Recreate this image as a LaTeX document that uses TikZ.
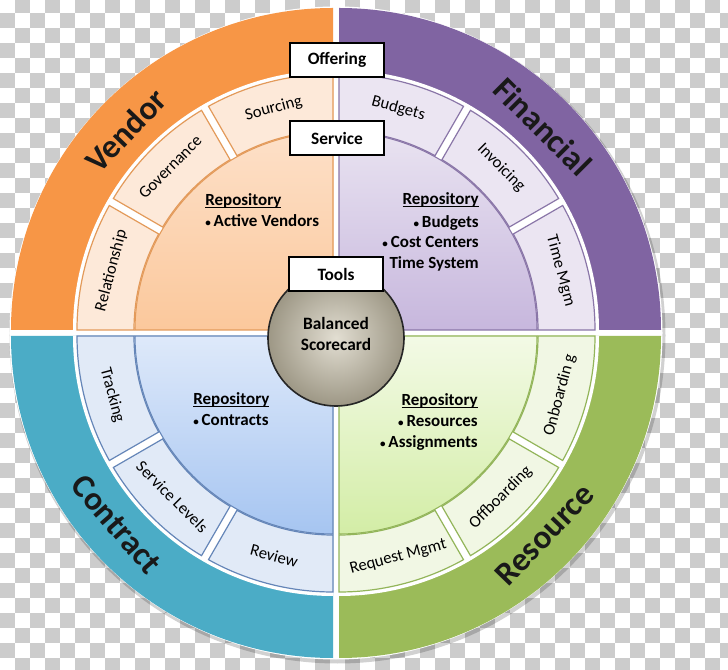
\documentclass[tikz,border=0pt]{standalone}
\usepackage{fontspec}
\setmainfont{Carlito}
\usetikzlibrary{calc}

\definecolor{checker}{RGB}{204,204,204}
\definecolor{vband}{HTML}{F79646}
\definecolor{vseg}{HTML}{FDE9D9}
\definecolor{vsegline}{HTML}{E39A5A}
\definecolor{vtop}{HTML}{FDE0C8}
\definecolor{vbot}{HTML}{FBC89C}
\definecolor{fband}{HTML}{8064A2}
\definecolor{fseg}{HTML}{EBE5F2}
\definecolor{fsegline}{HTML}{8A76A8}
\definecolor{ftop}{HTML}{E9E3F1}
\definecolor{fbot}{HTML}{C7B7DD}
\definecolor{cband}{HTML}{4BACC6}
\definecolor{cseg}{HTML}{E1EAF7}
\definecolor{csegline}{HTML}{6586B8}
\definecolor{ctop}{HTML}{DEE9FA}
\definecolor{cbot}{HTML}{A6C5F1}
\definecolor{rband}{HTML}{9BBB59}
\definecolor{rseg}{HTML}{F1F7E4}
\definecolor{rsegline}{HTML}{93B55A}
\definecolor{rtop}{HTML}{F3FAE6}
\definecolor{rbot}{HTML}{D3EDA6}
\definecolor{balltop}{HTML}{E2DED2}
\definecolor{ballbot}{HTML}{9D9785}

\newlength\ulwd
\newcommand\repul[1]{\settowidth\ulwd{#1}\rlap{\rule[-1.7pt]{\ulwd}{0.9pt}}#1}
\newcommand\smbul{\raisebox{0.4pt}{\scalebox{0.65}{•}}\hspace{2.2pt}}

% #1 style, #2 outer start, #3 outer end, #4 inner start, #5 inner end
\newcommand\segfill[5]{\filldraw[#1] (#2:256) arc[start angle=#2,end angle=#3,radius=256] -- (#5:199) arc[start angle=#5,end angle=#4,radius=199] -- cycle;}

% #1 #2 shift, #3 start angle, #4 band, #5 seg fill, #6 seg line, #7 top, #8 bottom
\newcommand\drawquad[8]{%
 \begin{scope}[shift={(#1,#2)}]
  \pgfmathsetmacro\qa{#3}
  \pgfmathsetmacro\qb{#3+90}
  \pgfmathsetmacro\oA{#3+29.1}\pgfmathsetmacro\oB{#3+30.9}
  \pgfmathsetmacro\oC{#3+59.1}\pgfmathsetmacro\oD{#3+60.9}
  \pgfmathsetmacro\iA{#3+28.85}\pgfmathsetmacro\iB{#3+31.15}
  \pgfmathsetmacro\iC{#3+58.85}\pgfmathsetmacro\iD{#3+61.15}
  \fill[#4] (0,0) -- (\qa:322) arc[start angle=\qa,end angle=\qb,radius=322] -- cycle;
  \fill[white] (\qa:260) arc[start angle=\qa,end angle=\qb,radius=260] -- (\qb:196) arc[start angle=\qb,end angle=\qa,radius=196] -- cycle;
  \segfill{fill=#5,draw=#6,line width=0.9pt}{\qa}{\oA}{\qa}{\iA}
  \segfill{fill=#5,draw=#6,line width=0.9pt}{\oB}{\oC}{\iB}{\iC}
  \segfill{fill=#5,draw=#6,line width=0.9pt}{\oD}{\qb}{\iD}{\qb}
  \path[draw=#6,line width=0.8pt,top color=#7,bottom color=#8] (0,0) -- (\qa:198) arc[start angle=\qa,end angle=\qb,radius=198] -- cycle;
 \end{scope}}

\tikzset{
 seglabel/.style={font=\fontsize{12.5}{14}\selectfont, text=black, inner sep=0pt, text height=8.5pt, text depth=2.5pt},
 quadlabel/.style={font=\bfseries\fontsize{25}{30}\selectfont, text=black!90, inner sep=0pt},
 reptext/.style={font=\bfseries\fontsize{12.75}{15}\selectfont, text=black, inner sep=0pt},
 tagbox/.style={draw=black, line width=1.5pt, fill=white, minimum width=70.5pt, minimum height=25.5pt, inner sep=0pt, font=\bfseries\fontsize{13}{15}\selectfont},
 ballstyle/.style={circle, draw=black!85, line width=1.2pt, minimum size=102pt, inner sep=0pt, inner color=balltop, outer color=ballbot},
 balltext/.style={font=\bfseries\fontsize{13}{15.75}\selectfont, align=center, inner sep=0pt},
}

\begin{document}
\begin{tikzpicture}[x=0.75pt,y=0.75pt]
\useasboundingbox (-336,-337) rectangle (392,333);
% transparency checkerboard
\begin{scope}
 \clip (-336,-337) rectangle (392,333);
 \fill[white] (-336,-337) rectangle (392,333);
 \foreach \r in {0,...,44}{
  \foreach \c in {0,...,48}{
   \ifodd\numexpr\c+\r\relax
    \fill[checker] ({15*\c-336},{334.7-15*\r}) rectangle ++(15,-15);
   \fi
  }
 }
\end{scope}
% shadow and white base
\fill[black,opacity=0.18] (1.5,-2.5) circle[radius=328];
\fill[white] (0,0) circle[radius=326.5];

\drawquad{-3}{3}{90}{vband}{vseg}{vsegline}{vtop}{vbot}
\drawquad{3}{3}{0}{fband}{fseg}{fsegline}{ftop}{fbot}
\drawquad{-3}{-3}{180}{cband}{cseg}{csegline}{ctop}{cbot}
\drawquad{3}{-3}{270}{rband}{rseg}{rsegline}{rtop}{rbot}

% Vendor
\begin{scope}[shift={(-3,3)}]
 \node[seglabel, rotate=15] (sourcing) at (105:229) {Sourcing};
 \node[seglabel, rotate=45] (governance) at (135:229) {Governance};
 \node[seglabel, rotate=75] (relationship) at (165:229) {Relationship};
 \node[quadlabel, rotate=46] (vendor) at (136:288) {Vendor};
\end{scope}
% Financial
\begin{scope}[shift={(3,3)}]
 \node[seglabel, rotate=-15] (budgets) at (75:229) {Budgets};
 \node[seglabel, rotate=-45] (invoicing) at (45:229) {Invoicing};
 \node[seglabel, rotate=-75] (timemgm) at (15:229) {Time Mgm};
 \node[quadlabel, rotate=-45] (financial) at (45:288) {Financial};
\end{scope}
% Contract
\begin{scope}[shift={(-3,-3)}]
 \node[seglabel, rotate=-75] (tracking) at (195:229) {Tracking};
 \node[seglabel, rotate=-45] (servicelevels) at (225:229) {Service Levels};
 \node[seglabel, rotate=-15] (review) at (255:229) {Review};
 \node[quadlabel, rotate=-49] (contract) at (221:287) {Contract};
\end{scope}
% Resource
\begin{scope}[shift={(3,-3)}]
 \node[seglabel, rotate=15] (requestmgmt) at (285:229) {Request Mgmt};
 \node[seglabel, rotate=45] (offboarding) at (315:229) {Offboarding};
 \node[seglabel, rotate=75] (onboarding) at (345:229) {Onboardin g};
 \node[quadlabel, rotate=46] (resource) at (316:286) {Resource};
\end{scope}

% Repository texts
\node[reptext, anchor=base west] (vrep) at (-131,127) {\repul{Repository}};
\node[reptext, anchor=base west] (vrepa) at (-131,106) {\smbul Active Vendors};

\node[reptext, anchor=base east] (frep) at (143,128) {\repul{Repository}};
\node[reptext, anchor=base east] (frepa) at (143,105) {\smbul Budgets};
\node[reptext, anchor=base east] (frepb) at (143,85) {\smbul Cost Centers};
\node[reptext, anchor=base east] (frepc) at (143,64) {Time System};

\node[reptext, anchor=base west] (crep) at (-143,-72) {\repul{Repository}};
\node[reptext, anchor=base west] (crepa) at (-143,-93) {\smbul Contracts};

\node[reptext, anchor=base east] (rrep) at (142,-73) {\repul{Repository}};
\node[reptext, anchor=base east] (rrepa) at (142,-94) {\smbul Resources};
\node[reptext, anchor=base east] (rrepb) at (142,-115) {\smbul Assignments};

% centre
\node[ballstyle] (ball) at (0,-5) {};
\node[balltext] (balltxt) at (0,-1) {Balanced\\Scorecard};

% tag boxes
\node[tagbox] (offering) at (1,273) {Offering};
\node[tagbox] (service) at (1,195) {Service};
\node[tagbox] (tools) at (0,59) {Tools};
\end{tikzpicture}
\end{document}
